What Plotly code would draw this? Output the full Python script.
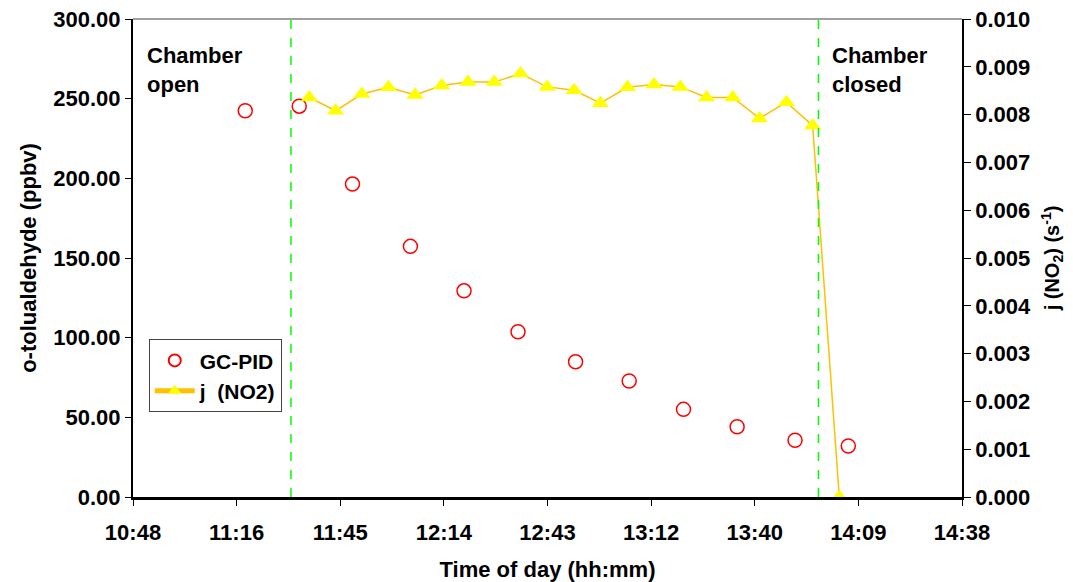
import plotly.graph_objects as go

DAY = "2000-01-01 "

# GC-PID measurements (o-tolualdehyde, ppbv)
gc_times = ["11:19:12", "11:34:12", "11:49:00", "12:05:06", "12:20:00", "12:35:00",
            "12:51:00", "13:05:54", "13:21:00", "13:35:54", "13:52:00", "14:06:48"]
gc_values = [242.4, 245.3, 196.4, 157.3, 129.4, 103.7, 84.9, 72.8, 55.0, 44.1, 35.6, 32.0]

# j(NO2) photolysis frequency (s^-1)
j_times = ["11:37:00", "11:44:18", "11:51:36", "11:59:00", "12:06:24", "12:13:48",
           "12:21:06", "12:28:24", "12:35:42", "12:43:06", "12:50:36", "12:57:54",
           "13:05:24", "13:12:48", "13:20:06", "13:27:24", "13:34:42", "13:42:06",
           "13:49:36", "13:56:54", "14:04:18"]
j_values = [0.00836, 0.00808, 0.00843, 0.00857, 0.00841, 0.00861, 0.00868, 0.00868,
            0.00886, 0.00858, 0.00851, 0.00824, 0.00857, 0.00863, 0.00858, 0.00836,
            0.00836, 0.00792, 0.00826, 0.00777, 0.0]

# x-axis ticks
tick_times = ["10:48:00", "11:16:48", "11:45:36", "12:14:24", "12:43:12",
              "13:12:00", "13:40:48", "14:09:36", "14:38:24"]
tick_labels = ["10:48", "11:16", "11:45", "12:14", "12:43", "13:12", "13:40", "14:09", "14:38"]

# chamber events
event_times = ["11:31:54", "13:58:30"]
event_labels = ["Chamber<br>open", "Chamber<br>closed"]

FONT = "Liberation Sans, Arial, sans-serif"

fig = go.Figure()
fig.add_trace(go.Scatter(
    x=[DAY + t for t in gc_times], y=gc_values, name="GC-PID", mode="markers",
    marker=dict(symbol="circle-open", size=14, color="#FF0000", line=dict(width=1.5, color="#FF0000")),
    yaxis="y"))
fig.add_trace(go.Scatter(
    x=[DAY + t for t in j_times], y=j_values, name="j\u00a0 (NO2)", mode="lines+markers",
    line=dict(color="#FFC000", width=1.5),
    marker=dict(symbol="triangle-up", size=15, color="#FFFF00", line=dict(width=0)),
    yaxis="y2"))

shapes = []
for t in event_times:
    shapes.append(dict(type="line", xref="x", yref="paper", x0=DAY + t, x1=DAY + t, y0=0, y1=1,
                       line=dict(color="#00FF00", width=1.5, dash="dash")))
shapes.append(dict(type="line", xref="paper", yref="paper", x0=0, x1=1, y0=1, y1=1,
                   line=dict(color="#808080", width=1.5)))
fig.update_layout(shapes=shapes)

annotations = [
    dict(xref="paper", yref="paper", x=0.014, y=0.953, xanchor="left", yanchor="top",
         text="<b>" + event_labels[0] + "</b>", showarrow=False, align="left",
         font=dict(family=FONT, size=22, color="black")),
    dict(xref="paper", yref="paper", x=0.8405, y=0.953, xanchor="left", yanchor="top",
         text="<b>" + event_labels[1] + "</b>", showarrow=False, align="left",
         font=dict(family=FONT, size=22, color="black")),
]

fig.update_layout(
    width=1073, height=582,
    margin=dict(l=133, r=111, t=19, b=85, autoexpand=False),
    paper_bgcolor="white", plot_bgcolor="white",
    font=dict(family=FONT, color="black"),
    annotations=annotations,
    showlegend=True,
    legend=dict(x=0.019, y=0.33, xanchor="left", yanchor="top",
                bgcolor="white", bordercolor="#444", borderwidth=1,
                font=dict(family=FONT, size=21, color="black", weight="bold"),
                tracegroupgap=0, itemsizing="constant", itemwidth=40),
    xaxis=dict(
        type="date", range=[DAY + tick_times[0], DAY + tick_times[-1]],
        tickvals=[DAY + t for t in tick_times], ticktext=tick_labels,
        showgrid=False, zeroline=False, showline=True, linecolor="black", linewidth=2.5,
        ticks="outside", ticklen=6, tickcolor="black", tickwidth=1, automargin=False,
        ticklabelstandoff=8, ticklabeloverflow="allow",
        tickfont=dict(family=FONT, size=22, color="black", weight="bold"),
        title=dict(text="<b>Time of day (hh:mm)</b>", font=dict(family=FONT, size=22), standoff=20),
    ),
    yaxis=dict(
        range=[0, 300], tickvals=[0, 50, 100, 150, 200, 250, 300], tickformat=".2f",
        showgrid=False, zeroline=False, showline=True, linecolor="black", linewidth=2,
        ticks="outside", ticklen=6, tickcolor="black", automargin=False,
        ticklabeloverflow="allow",
        tickfont=dict(family=FONT, size=22, color="black", weight="bold"),
        title=dict(text="<b>o-tolualdehyde (ppbv)</b>", font=dict(family=FONT, size=22), standoff=11),
    ),
    yaxis2=dict(
        range=[0, 0.010], tickvals=[0.001 * i for i in range(11)], tickformat=".3f",
        overlaying="y", side="right",
        showgrid=False, zeroline=False, showline=True, linecolor="black", linewidth=1.5,
        ticks="outside", ticklen=7, tickcolor="black", automargin=False,
        ticklabeloverflow="allow",
        tickfont=dict(family=FONT, size=22, color="black", weight="bold"),
        title=dict(text="<b>j (NO<sub>2</sub>) (s<sup>-1</sup>)</b>", font=dict(family=FONT, size=20), standoff=15),
    ),
)

fig.write_html("out.html", config={"displayModeBar": False},
               post_script="document.body.style.margin='0';")
